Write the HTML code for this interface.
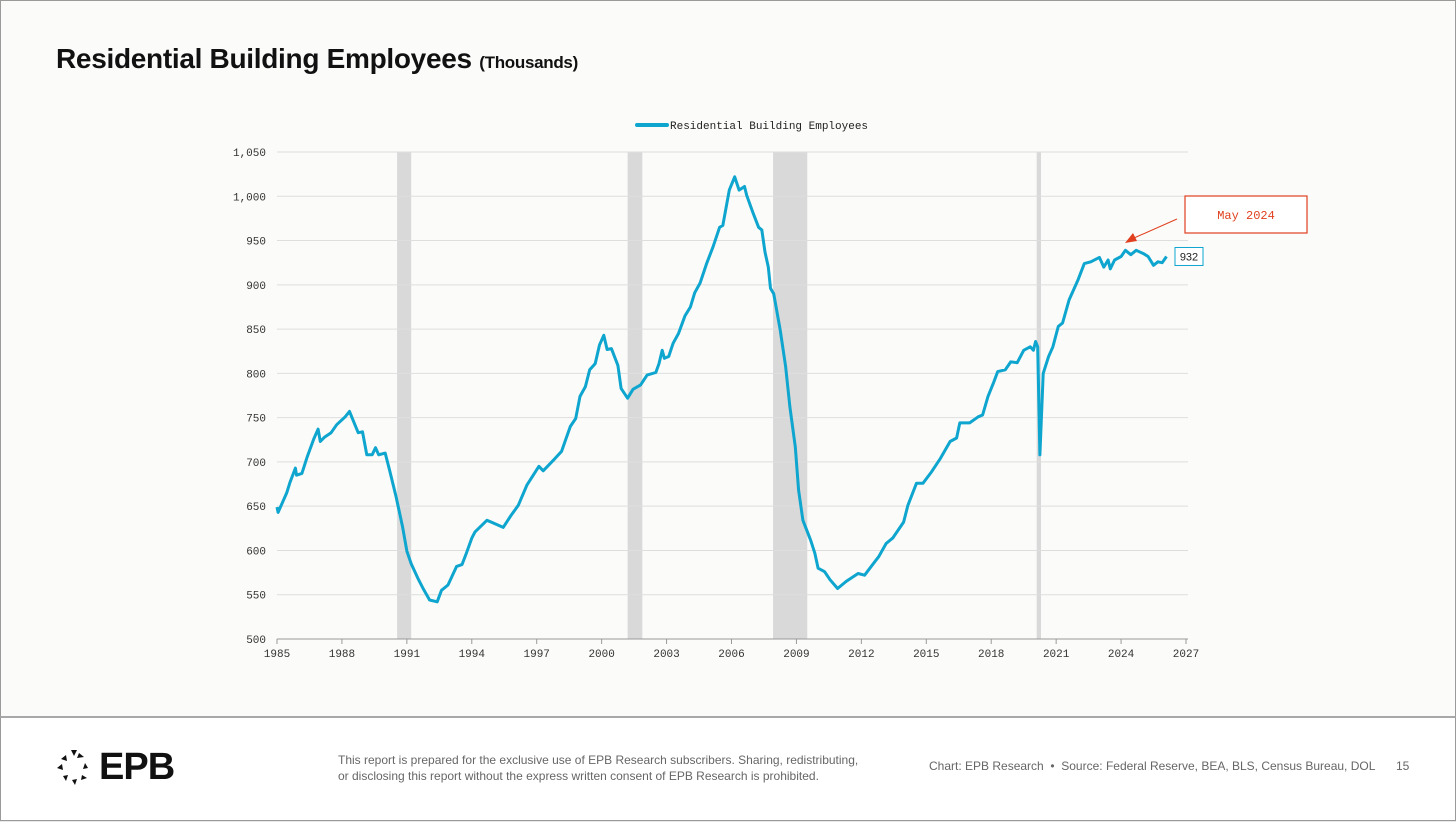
<!DOCTYPE html>
<html><head><meta charset="utf-8"><style>
body{margin:0;width:1456px;height:822px;background:#e9e9e9;font-family:"Liberation Sans",sans-serif;overflow:hidden}
#page{position:absolute;left:0;top:0;width:1454px;height:716px;background:#fbfbf9;border:1px solid #9a9a9a;border-bottom:none}
#footer{position:absolute;left:0;top:716px;width:1454px;height:102px;background:#fff;border:1px solid #9a9a9a;border-top:2px solid #a8a8a8}
#title{position:absolute;left:55px;top:42px;font-size:28px;font-weight:bold;color:#111;letter-spacing:-0.3px}
#title span{font-size:17px}
svg{position:absolute;left:0;top:0}
</style></head><body>
<div id="page">
<div id="title">Residential Building Employees <span>(Thousands)</span></div>
</div>
<div id="footer">
 <div style="position:absolute;left:54px;top:30px;height:36px;width:150px">
  <svg width="40" height="40" viewBox="0 0 40 40" style="left:0;top:0">
   <g fill="#111">
    <polygon points="16,2 22,2 19,8"/><polygon points="24,5 29,9 22,10"/>
    <polygon points="6,11 11,7 12,13"/><polygon points="30,15 33,20 28,21"/>
    <polygon points="2,20 7,16 8,22"/><polygon points="27,27 32,30 26,32"/>
    <polygon points="8,28 13,27 11,33"/><polygon points="17,32 22,31 20,37"/>
   </g>
  </svg>
  <div style="position:absolute;left:44px;top:-2px;font-size:38px;font-weight:bold;color:#111;letter-spacing:-1px">EPB</div>
 </div>
 <div style="position:absolute;left:337px;top:34px;font-size:12px;color:#666;line-height:16px">This report is prepared for the exclusive use of EPB Research subscribers. Sharing, redistributing,<br>or disclosing this report without the express written consent of EPB Research is prohibited.</div>
 <div style="position:absolute;left:928px;top:41px;font-size:12px;color:#666">Chart: EPB Research &nbsp;•&nbsp; Source: Federal Reserve, BEA, BLS, Census Bureau, DOL</div>
 <div style="position:absolute;left:1395px;top:41px;font-size:12px;color:#666">15</div>
</div>
<svg id="chart" width="1456" height="716"></svg>
<script>
const years=[1985.0,1985.05,1985.45,1985.6,1985.85,1985.9,1986.15,1986.4,1986.7,1986.9,1987.0,1987.2,1987.5,1987.76,1988.15,1988.35,1988.6,1988.75,1988.95,1989.15,1989.4,1989.55,1989.7,1990.0,1990.2,1990.5,1990.8,1991.0,1991.2,1991.5,1991.75,1992.05,1992.4,1992.6,1992.9,1993.3,1993.55,1993.75,1994.0,1994.15,1994.7,1994.9,1995.45,1995.8,1996.15,1996.55,1997.1,1997.3,1997.85,1998.15,1998.55,1998.8,1999.0,1999.25,1999.45,1999.7,1999.9,2000.1,2000.25,2000.45,2000.75,2000.9,2001.2,2001.45,2001.8,2002.1,2002.5,2002.65,2002.8,2002.9,2003.1,2003.3,2003.55,2003.85,2004.1,2004.3,2004.55,2004.85,2005.15,2005.45,2005.6,2005.9,2006.15,2006.35,2006.6,2006.7,2007.0,2007.25,2007.4,2007.55,2007.7,2007.8,2007.95,2008.25,2008.5,2008.7,2008.95,2009.1,2009.3,2009.65,2009.85,2010.0,2010.3,2010.55,2010.9,2011.3,2011.85,2012.15,2012.55,2012.8,2013.15,2013.45,2013.95,2014.15,2014.55,2014.85,2015.25,2015.65,2016.1,2016.4,2016.55,2017.0,2017.4,2017.6,2017.85,2018.1,2018.3,2018.65,2018.9,2019.2,2019.5,2019.8,2019.95,2020.05,2020.15,2020.25,2020.4,2020.65,2020.85,2021.1,2021.3,2021.6,2022.0,2022.3,2022.6,2023.0,2023.2,2023.4,2023.5,2023.7,2024.0,2024.2,2024.45,2024.7,2025.05,2025.25,2025.5,2025.7,2025.9,2026.1];
const values=[649,643,665,677,693,685,687,706,726,737,723,728,733,742,751,757,742,733,734,708,708,716,708,710,691,661,627,599,585,569,557,544,542,555,561,582,584,597,614,621,634,632,626,639,651,674,695,690,704,712,740,749,774,785,804,811,832,843,827,828,809,783,772,782,787,798,801,811,826,817,819,834,845,865,875,891,902,924,943,965,967,1007,1022,1007,1011,1001,981,965,962,937,920,896,890,849,808,762,717,668,634,612,597,580,576,567,557,565,574,572,585,593,608,614,632,651,676,676,689,704,723,727,744,744,751,753,774,789,802,804,813,812,826,830,826,836,830,708,800,819,830,853,857,883,905,924,926,931,920,928,918,928,932,939,934,939,935,932,922,926,925,932];
const recStart=[1990.55,2001.2,2007.92,2020.1];
const recEnd=[1991.2,2001.88,2009.5,2020.3];
const yTicks=[500,550,600,650,700,750,800,850,900,950,1000,1050];
const xTicks=[1985,1988,1991,1994,1997,2000,2003,2006,2009,2012,2015,2018,2021,2024,2027];
const svg=document.getElementById('chart');const NS='http://www.w3.org/2000/svg';
const X=y=>277+(y-1985)*(1186-277)/42;
const Y=v=>639-(v-500)*(639-152)/550;
function mk(t,a,p){const e=document.createElementNS(NS,t);for(const k in a)e.setAttribute(k,a[k]);(p||svg).appendChild(e);return e;}
recStart.forEach((s,i)=>{const r=mk('rect',{x:X(s),y:152,width:X(recEnd[i])-X(s),height:487,fill:'#d9d9d9'});

});
yTicks.forEach(v=>{const l=mk('line',{x1:277,x2:1188,y1:Y(v),y2:Y(v),stroke:v==500?'#999':'#dedede','stroke-width':1});


const t=mk('text',{x:266,y:Y(v)+4,'text-anchor':'end','font-size':11,'font-family':'Liberation Mono,monospace',fill:'#333'});t.textContent=v>=1000?'1,0'+String(v).slice(2):v;

});
xTicks.forEach(y=>{mk('line',{x1:X(y),x2:X(y),y1:639,y2:644,stroke:'#999'});
const t=mk('text',{x:X(y),y:657,'text-anchor':'middle','font-size':11,'font-family':'Liberation Mono,monospace',fill:'#333'});t.textContent=y;

});
const d=years.map((y,i)=>(i?'L':'M')+X(y).toFixed(1)+','+Y(values[i]).toFixed(1)).join('');
const p=mk('path',{d:d,fill:'none',stroke:'#0ea5cf','stroke-width':3,'stroke-linejoin':'round'});


const lg=mk('g',{});

mk('line',{x1:637,x2:667,y1:125,y2:125,stroke:'#0ea5cf','stroke-width':4,'stroke-linecap':'round'},lg);
const lt=mk('text',{x:670,y:129,'font-size':11,'font-family':'Liberation Mono,monospace',fill:'#222'},lg);lt.textContent='Residential Building Employees';
const last=values[values.length-1];const ly=Y(last);
const lb=mk('rect',{x:1175,y:ly-9,width:28,height:18,fill:'#fff',stroke:'#0ea5cf','stroke-width':1});


const lv=mk('text',{x:1189,y:ly+4,'text-anchor':'middle','font-size':11,'font-family':'Liberation Sans,sans-serif',fill:'#222'});lv.textContent=last;
const ab=mk('rect',{x:1185,y:196,width:122,height:37,fill:'#fff',stroke:'#e0401f','stroke-width':1.2});


const at=mk('text',{x:1246,y:219,'text-anchor':'middle','font-size':12,'font-family':'Liberation Mono,monospace',fill:'#e0401f'});at.textContent='May 2024';
mk('line',{x1:1177,x2:1134,y1:219,y2:238,stroke:'#e0401f','stroke-width':1});
mk('polygon',{points:'1125,243 1133,233 1137,241',fill:'#e0401f'});
</script>
</body></html>
